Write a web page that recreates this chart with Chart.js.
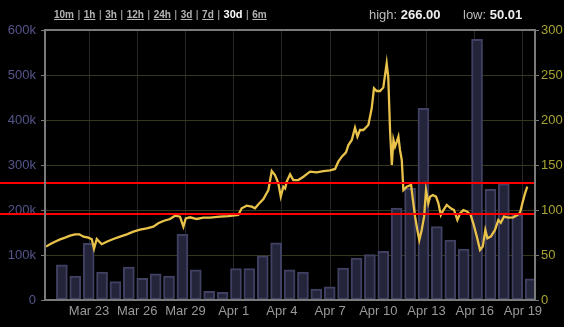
<!DOCTYPE html>
<html>
<head>
<meta charset="utf-8">
<script src="https://cdn.jsdelivr.net/npm/chart.js@4/dist/chart.umd.min.js"></script>
<style>
  html, body { margin: 0; padding: 0; background: #000; }
  #wrap { position: relative; width: 564px; height: 327px; overflow: hidden; }
  #chart { position: absolute; left: 0; top: 0; }
  .ranges { position: absolute; left: 54px; top: 8px; font: bold 10px Arial, "Liberation Sans", sans-serif; color: #888; line-height: 12px; white-space: nowrap; word-spacing: 0.7px; }
  .ranges a { color: #b4b4b4; text-decoration: underline; }
  .ranges b { color: #fff; font-size: 11px; }
  .stats { position: absolute; top: 7px; font: 13px Arial, "Liberation Sans", sans-serif; color: #bbb; line-height: 15px; white-space: nowrap; }
  .stats b { color: #eee; }
</style>
</head>
<body>
<div id="wrap">
  <canvas id="chart" width="564" height="327"></canvas>
  <div class="ranges">
    <a>10m</a> | <a>1h</a> | <a>3h</a> | <a>12h</a> | <a>24h</a> | <a>3d</a> | <a>7d</a> | <b>30d</b> | <a>6m</a>
  </div>
  <div class="stats" style="left:369px">high: <b>266.00</b></div>
  <div class="stats" style="left:463px">low: <b>50.01</b></div>
</div>
<script>
  // x values are days counted from Feb 28 (Mar 1 = 1, Apr 1 = 32)
  const tickDays = [23, 26, 29, 32, 35, 38, 41, 44, 47, 50];
  const tickLabels = ['Mar 23', 'Mar 26', 'Mar 29', 'Apr 1', 'Apr 4', 'Apr 7', 'Apr 10', 'Apr 13', 'Apr 16', 'Apr 19'];

  // volume bars, one every 20 hours starting at day 21.31
  const barStartDay = 21.31;
  const barStepHours = 20;
  const volumes = [78000, 53000, 126000, 62000, 41000, 73000, 48000, 58000, 53000, 146000,
    67000, 19000, 17000, 70000, 70000, 98000, 127000, 67000, 62000, 24000,
    29000, 71000, 93000, 101000, 108000, 204000, 248000, 426000, 163000, 133000,
    113000, 579000, 246000, 258000, 189000, 47000];

  const priceDays = [20.32, 20.57, 20.88, 21.20, 21.51, 21.82, 22.13, 22.40, 22.65, 22.96,
    23.17, 23.31, 23.48, 23.64, 23.79, 24.10, 24.51, 24.93, 25.35, 25.76,
    26.17, 26.59, 27.00, 27.31, 27.62, 28.04, 28.35, 28.66, 28.87, 29.02,
    29.29, 29.70, 30.11, 30.53, 31.15, 31.67, 32.29, 32.50, 32.81, 33.12,
    33.33, 33.54, 33.85, 34.16, 34.37, 34.57, 34.78, 34.93, 35.09, 35.20,
    35.30, 35.51, 35.71, 36.02, 36.34, 36.75, 37.17, 37.58, 38.00, 38.31,
    38.51, 38.73, 38.99, 39.14, 39.35, 39.55, 39.70, 39.86, 40.07, 40.38,
    40.59, 40.73, 40.90, 41.11, 41.31, 41.52, 41.62, 41.73, 41.84, 41.94,
    42.04, 42.15, 42.25, 42.35, 42.46, 42.56, 42.77, 43.04, 43.18, 43.29,
    43.43, 43.55, 43.70, 43.85, 43.97, 44.11, 44.22, 44.39, 44.59, 44.74,
    44.89, 45.05, 45.26, 45.51, 45.71, 45.92, 46.09, 46.29, 46.54, 46.75,
    46.91, 47.13, 47.33, 47.50, 47.66, 47.79, 48.00, 48.26, 48.47, 48.62,
    48.82, 49.09, 49.40, 49.65, 49.82, 49.99, 50.13, 50.27];
  const prices = [59.3, 61.9, 64.8, 67.4, 69.3, 71.5, 73.0, 73.0, 70.4, 69.3,
    67.4, 57.0, 67.8, 64.8, 62.0, 64.8, 67.8, 70.4, 73.0, 75.9,
    78.1, 79.6, 81.5, 85.2, 87.8, 90.0, 93.7, 92.6, 81.5, 90.7,
    91.9, 90.0, 91.5, 91.5, 92.6, 93.3, 94.4, 101.9, 104.8, 103.7,
    101.9, 106.3, 112.2, 122.2, 143.3, 138.9, 129.6, 114.8, 125.9, 124.0,
    131.5, 139.6, 133.3, 133.3, 137.0, 142.6, 141.8, 143.3, 144.1, 145.6,
    153.7, 159.3, 164.1, 172.2, 177.8, 191.5, 181.5, 188.9, 188.9, 194.4,
    213.0, 235.2, 232.2, 232.2, 236.0, 263.0, 247.0, 188.9, 150.0, 177.8,
    170.4, 176.0, 181.5, 166.7, 155.6, 122.2, 125.9, 127.8, 107.4, 92.6,
    77.8, 66.7, 77.8, 92.6, 122.2, 107.4, 114.8, 116.7, 114.8, 107.4,
    94.4, 100.0, 105.6, 101.9, 100.0, 88.9, 96.3, 100.0, 98.1, 94.4,
    85.2, 70.4, 55.6, 59.3, 77.8, 68.5, 70.4, 77.8, 88.9, 85.9,
    92.6, 91.5, 91.9, 94.4, 97.0, 109.3, 118.5, 125.9];

  // horizontal marker levels on the price axis
  const markerLevels = [130.3, 95.2];

  const barPoints = volumes.map((v, i) => ({ x: barStartDay + i * barStepHours / 24, y: v }));
  const pricePoints = prices.map((v, i) => ({ x: priceDays[i], y: v }));

  const markerLines = {
    id: 'markerLines',
    afterDatasetsDraw(chart) {
      const { ctx, chartArea, scales } = chart;
      ctx.save();
      ctx.strokeStyle = '#ff0000';
      ctx.lineWidth = 2;
      markerLevels.forEach((level) => {
        const y = Math.round(scales.y1.getPixelForValue(level));
        ctx.beginPath();
        ctx.moveTo(0, y);
        ctx.lineTo(chartArea.right, y);
        ctx.stroke();
      });
      ctx.restore();
    },
    afterDraw(chart) {
      const { ctx, chartArea } = chart;
      ctx.save();
      ctx.strokeStyle = '#7a7a7a';
      ctx.lineWidth = 2;
      ctx.strokeRect(chartArea.left, chartArea.top, chartArea.right - chartArea.left, chartArea.bottom - chartArea.top);
      ctx.restore();
    },
  };

  Chart.defaults.font.family = 'Arial, "Liberation Sans", sans-serif';
  Chart.defaults.font.size = 13;

  new Chart(document.getElementById('chart'), {
    type: 'bar',
    data: {
      datasets: [
        {
          type: 'line',
          label: 'Price',
          data: pricePoints,
          yAxisID: 'y1',
          borderColor: '#e9c24a',
          borderWidth: 2.3,
          pointRadius: 0,
          tension: 0,
          order: 0,
        },
        {
          label: 'Volume',
          data: barPoints,
          yAxisID: 'y',
          backgroundColor: '#24243a',
          borderColor: '#404062',
          borderWidth: 2,
          borderSkipped: false,
          barThickness: 11,
          order: 1,
        },
      ],
    },
    options: {
      responsive: false,
      animation: false,
      layout: { padding: { top: 30, left: 0, right: 0, bottom: 0 } },
      plugins: {
        legend: { display: false },
        tooltip: { enabled: false },
      },
      scales: {
        x: {
          type: 'linear',
          min: 20.26,
          max: 50.75,
          offset: false,
          afterBuildTicks: (scale) => {
            scale.ticks = tickDays.map((d) => ({ value: d }));
          },
          afterFit: (scale) => { scale.height = 27; },
          grid: { color: '#262626', drawTicks: false, offset: false },
          border: { display: false },
          ticks: {
            autoSkip: false,
            maxRotation: 0,
            padding: 4,
            color: '#999',
            callback: (v) => tickLabels[tickDays.indexOf(v)],
          },
        },
        y: {
          position: 'left',
          min: 0,
          max: 600000,
          afterFit: (scale) => { scale.width = 45; },
          grid: { color: '#36361c', tickColor: '#777', tickLength: 4 },
          border: { display: false },
          ticks: {
            stepSize: 100000,
            padding: 5,
            color: '#55558c',
            callback: (v) => (v === 0 ? '0' : v / 1000 + 'k'),
          },
        },
        y1: {
          position: 'right',
          min: 0,
          max: 300,
          afterFit: (scale) => { scale.width = 29; },
          grid: { drawOnChartArea: false, tickColor: '#777', tickLength: 4 },
          border: { display: false },
          ticks: { stepSize: 50, padding: 2, color: '#a8a434' },
        },
      },
    },
    plugins: [markerLines],
  });
</script>
</body>
</html>
